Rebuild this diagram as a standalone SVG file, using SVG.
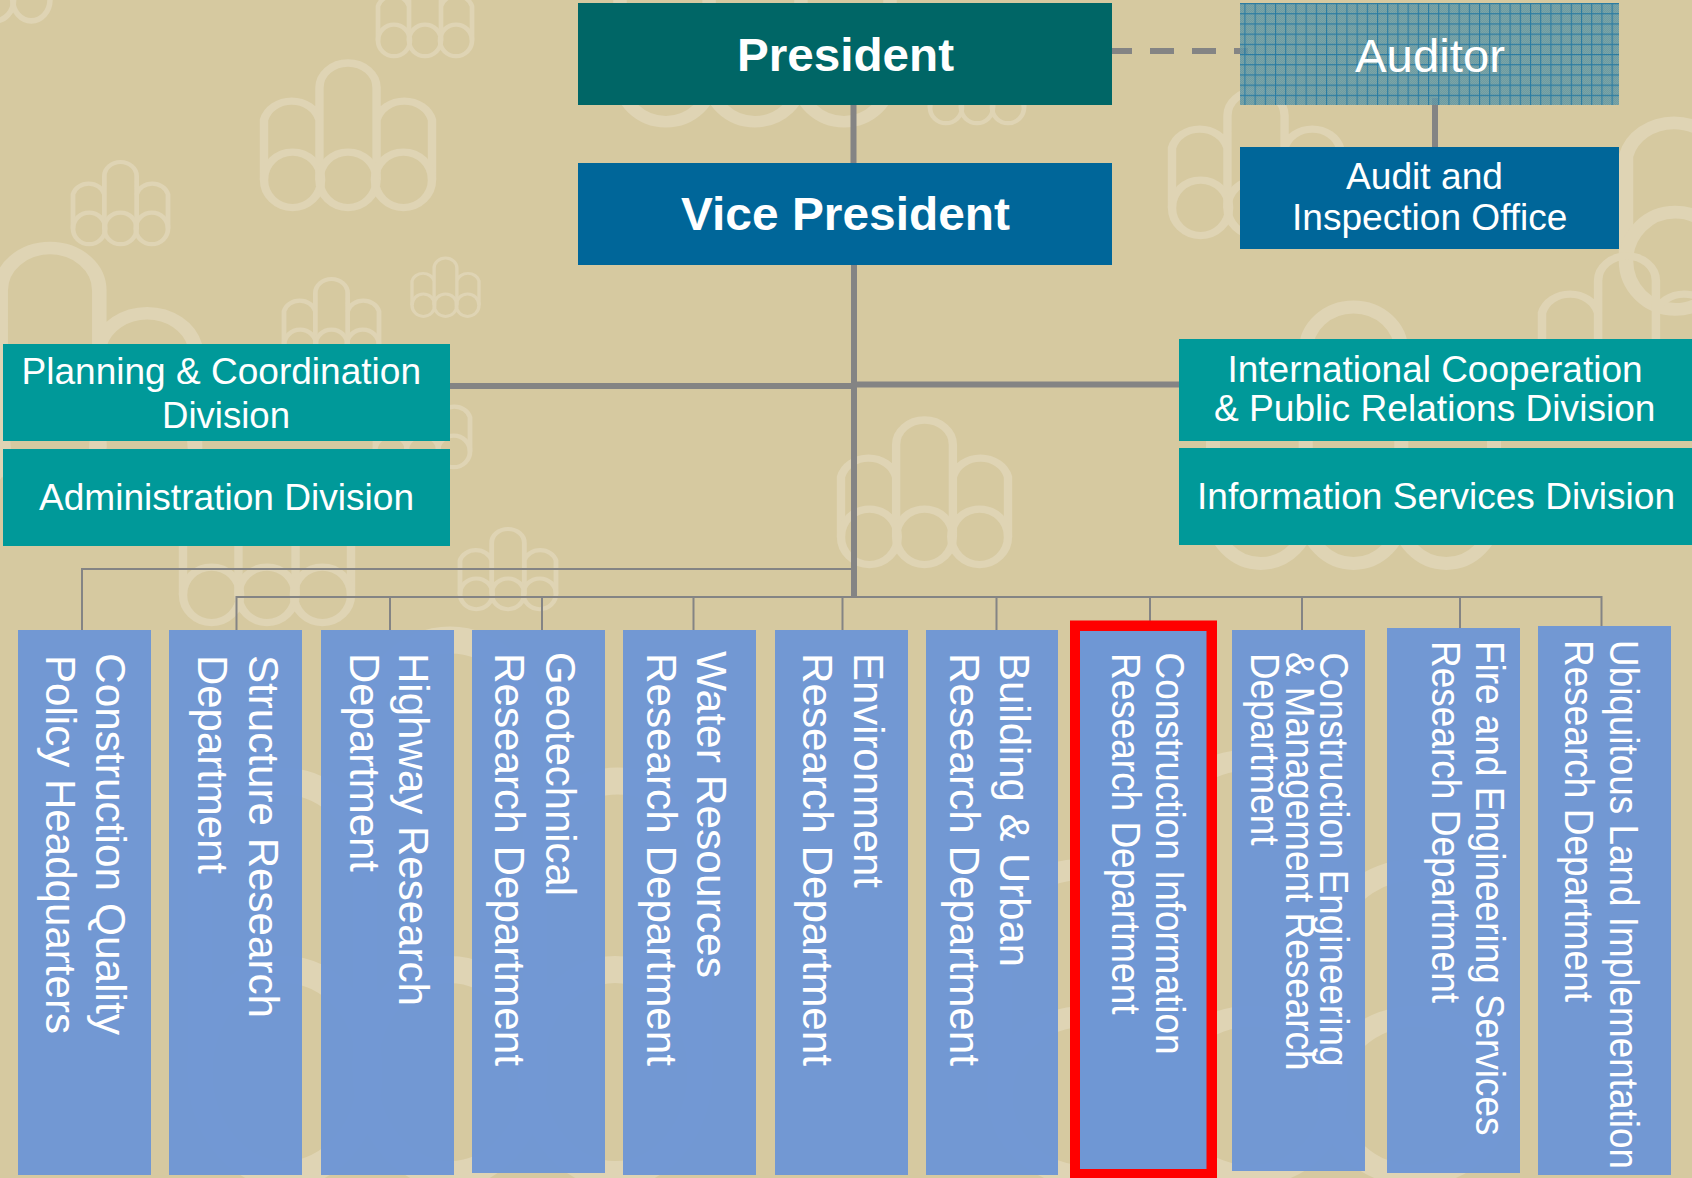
<svg xmlns="http://www.w3.org/2000/svg" xmlns:xlink="http://www.w3.org/1999/xlink" width="1692" height="1178" viewBox="0 0 1692 1178">
<style>
text{font-family:"Liberation Sans",Arial,sans-serif;fill:#fff}
.b{font-weight:bold;font-size:46px}
.a{font-size:46px}
.h{font-size:37px}
.v{font-size:42px}
.w{font-size:40px}
.teal{fill:#009999}
.col{fill:#6f97d4;fill-opacity:.98}
.thick{stroke:#848484;stroke-width:6;fill:none}
.thin{stroke:#848484;stroke-width:2;fill:none}
.mk{fill:none;stroke:#dfd4b4;stroke-width:5}
</style>
<defs>
<g id="mark"><path class="mk" d="M0 80V39A17 17 0 0 1 33 39V80M33 80V17A17 17 0 0 1 67 17V80M67 80V39A17 17 0 0 1 100 39V80"/><ellipse class="mk" cx="17" cy="80" rx="17" ry="19"/><ellipse class="mk" cx="50" cy="80" rx="17" ry="19"/><ellipse class="mk" cx="83" cy="80" rx="17" ry="19"/></g>
<pattern id="dither" width="2" height="2" patternUnits="userSpaceOnUse"><rect width="2" height="2" fill="#5b93a4"/><rect width="1" height="1" fill="#6c9fa8"/><rect x="1" y="1" width="1" height="1" fill="#6c9fa8"/></pattern>
<pattern id="grid" x="0" y="3" width="10.2" height="10.2" patternUnits="userSpaceOnUse"><path d="M.5 0V10.2M0 .5H10.2" stroke="#0c6ea3" stroke-width="1.2" fill="none"/></pattern>
</defs>
<rect id="background" width="1692" height="1178" fill="#d6c9a0"/>
<g id="watermarks">
<use href="#mark" transform="translate(264 63) scale(1.68 1.46)"/>
<use href="#mark" transform="translate(73 162) scale(.95 .83)"/>
<use href="#mark" transform="translate(378 -26) scale(.94 .83)"/>
<use href="#mark" transform="translate(284 279) scale(.95 .83)"/>
<use href="#mark" transform="translate(412 258) scale(.67 .59)"/>
<use href="#mark" transform="translate(375 385) scale(.95 .83)"/>
<use href="#mark" transform="translate(-95 248) scale(2.9 2.5)"/>
<use href="#mark" transform="translate(620 -106) scale(2.7 2.3)"/>
<use href="#mark" transform="translate(930 41) scale(.94 .83)"/>
<use href="#mark" transform="translate(841 420) scale(1.67 1.46)"/>
<use href="#mark" transform="translate(460 529) scale(.96 .81)"/>
<use href="#mark" transform="translate(183 478) scale(1.68 1.46)"/>
<use href="#mark" transform="translate(1172 91) scale(1.68 1.46)"/>
<use href="#mark" transform="translate(1626 56) scale(2.9 2.56)"/>
<use href="#mark" transform="translate(1542 256) scale(1.7 1.46)"/>
<use href="#mark" transform="translate(1213 307) scale(2.81 2.59)"/>
<use href="#mark" transform="translate(-60 -90) scale(1.1 1.12)"/>
<use href="#mark" transform="translate(200 640) scale(5 5.4)"/>
<use href="#mark" transform="translate(1000 760) scale(5 4.2)"/>
</g>
<g id="connectors">
<path class="thick" d="M853.500 105V163M854 265V598M450 386H854M854 384.500H1179M1435 98V147"/>
<path class="thick" stroke-dasharray="20 18 24 18 24 18 24" d="M1112 51H1248"/>
<path class="thin" d="M82 630V569H853M236.500 630V597H1601.500V626M390 597V630M542 597V630M693.500 597V630M842.500 597V630M996.500 597V630M1150 597V621M1302 597V630M1460 597V628"/>
</g>
<g id="president"><rect x="578" y="3" width="534" height="102" fill="#006666"/><text class="b" x="737" y="71" textLength="217" lengthAdjust="spacingAndGlyphs">President</text></g>
<g id="vice-president"><rect x="578" y="163" width="534" height="102" fill="#006699"/><text class="b" x="681" y="230" textLength="329" lengthAdjust="spacingAndGlyphs">Vice President</text></g>
<g id="auditor"><g opacity=".85"><rect x="1240" y="3" width="379" height="102" fill="url(#dither)"/><rect x="1240" y="3" width="379" height="102" fill="url(#grid)"/></g><text class="a" x="1355" y="71.500" textLength="150" lengthAdjust="spacingAndGlyphs">Auditor</text></g>
<g id="audit-office"><rect x="1240" y="147" width="379" height="102" fill="#006699"/><text class="h" x="1346" y="189" textLength="157" lengthAdjust="spacingAndGlyphs">Audit and</text><text class="h" x="1292" y="229.500" textLength="275.500" lengthAdjust="spacingAndGlyphs">Inspection Office</text></g>
<g id="planning"><rect class="teal" x="3" y="344" width="447" height="97"/><text class="h" x="21.500" y="384" textLength="399.500" lengthAdjust="spacingAndGlyphs">Planning &amp; Coordination</text><text class="h" x="162" y="428" textLength="128" lengthAdjust="spacingAndGlyphs">Division</text></g>
<g id="administration"><rect class="teal" x="3" y="449" width="447" height="97"/><text class="h" x="39" y="510" textLength="375" lengthAdjust="spacingAndGlyphs">Administration Division</text></g>
<g id="international"><rect class="teal" x="1179" y="339" width="513" height="102"/><text class="h" x="1227.500" y="381.500" textLength="415" lengthAdjust="spacingAndGlyphs">International Cooperation</text><text class="h" x="1214" y="421" textLength="441.500" lengthAdjust="spacingAndGlyphs">&amp; Public Relations Division</text></g>
<g id="information"><rect class="teal" x="1179" y="448" width="513" height="97"/><text class="h" x="1197" y="509" textLength="478" lengthAdjust="spacingAndGlyphs">Information Services Division</text></g>
<g id="dept-1"><rect class="col" x="18" y="630" width="133" height="545"/><text class="v" transform="translate(96 653) rotate(90)" textLength="382" lengthAdjust="spacingAndGlyphs">Construction Quality</text><text class="v" transform="translate(46 655) rotate(90)" textLength="379" lengthAdjust="spacingAndGlyphs">Policy Headquarters</text></g>
<g id="dept-2"><rect class="col" x="169" y="630" width="133" height="545"/><text class="v" transform="translate(249 655) rotate(90)" textLength="363" lengthAdjust="spacingAndGlyphs">Structure Research</text><text class="v" transform="translate(198 655) rotate(90)" textLength="219" lengthAdjust="spacingAndGlyphs">Department</text></g>
<g id="dept-3"><rect class="col" x="321" y="630" width="133" height="545"/><text class="v" transform="translate(399 653) rotate(90)" textLength="353" lengthAdjust="spacingAndGlyphs">Highway Research</text><text class="v" transform="translate(350 653) rotate(90)" textLength="219" lengthAdjust="spacingAndGlyphs">Department</text></g>
<g id="dept-4"><rect class="col" x="472" y="630" width="133" height="543"/><text class="v" transform="translate(546 652) rotate(90)" textLength="244" lengthAdjust="spacingAndGlyphs">Geotechnical</text><text class="v" transform="translate(495 653) rotate(90)" textLength="413" lengthAdjust="spacingAndGlyphs">Research Department</text></g>
<g id="dept-5"><rect class="col" x="623" y="630" width="133" height="545"/><text class="v" transform="translate(697 651) rotate(90)" textLength="327" lengthAdjust="spacingAndGlyphs">Water Resources</text><text class="v" transform="translate(646.500 653) rotate(90)" textLength="413" lengthAdjust="spacingAndGlyphs">Research Department</text></g>
<g id="dept-6"><rect class="col" x="775" y="630" width="133" height="545"/><text class="v" transform="translate(854 653) rotate(90)" textLength="235" lengthAdjust="spacingAndGlyphs">Environment</text><text class="v" transform="translate(802.500 653) rotate(90)" textLength="413" lengthAdjust="spacingAndGlyphs">Research Department</text></g>
<g id="dept-7"><rect class="col" x="926" y="630" width="132" height="545"/><text class="v" transform="translate(1000 653) rotate(90)" textLength="314" lengthAdjust="spacingAndGlyphs">Building &amp; Urban</text><text class="v" transform="translate(950 653) rotate(90)" textLength="413" lengthAdjust="spacingAndGlyphs">Research Department</text></g>
<g id="dept-8"><rect x="1070" y="620.500" width="147" height="557.500" fill="#ff0000"/><rect x="1080" y="631" width="126.500" height="538" fill="#6f97d4"/><text class="w" transform="translate(1156 652.500) rotate(90)" textLength="402" lengthAdjust="spacingAndGlyphs">Construction Information</text><text class="w" transform="translate(1111.500 653) rotate(90)" textLength="361.500" lengthAdjust="spacingAndGlyphs">Research Department</text></g>
<g id="dept-9"><rect class="col" x="1232" y="630" width="133" height="541"/><text class="w" transform="translate(1320 652.500) rotate(90)" textLength="414" lengthAdjust="spacingAndGlyphs">Construction Engineering</text><text class="w" transform="translate(1286 652) rotate(90)" textLength="418.500" lengthAdjust="spacingAndGlyphs">&amp; Management Research</text><text class="w" transform="translate(1251 653) rotate(90)" textLength="192.500" lengthAdjust="spacingAndGlyphs">Department</text></g>
<g id="dept-10"><rect class="col" x="1387" y="628" width="133" height="545"/><text class="w" transform="translate(1476 641) rotate(90)" textLength="494.500" lengthAdjust="spacingAndGlyphs">Fire and Engineering Services</text><text class="w" transform="translate(1431.500 641) rotate(90)" textLength="362" lengthAdjust="spacingAndGlyphs">Research Department</text></g>
<g id="dept-11"><rect class="col" x="1538" y="626" width="133" height="549"/><text class="w" transform="translate(1609.500 640) rotate(90)" textLength="529" lengthAdjust="spacingAndGlyphs">Ubiquitous Land Implementation</text><text class="w" transform="translate(1565 640) rotate(90)" textLength="362" lengthAdjust="spacingAndGlyphs">Research Department</text></g>
</svg>
